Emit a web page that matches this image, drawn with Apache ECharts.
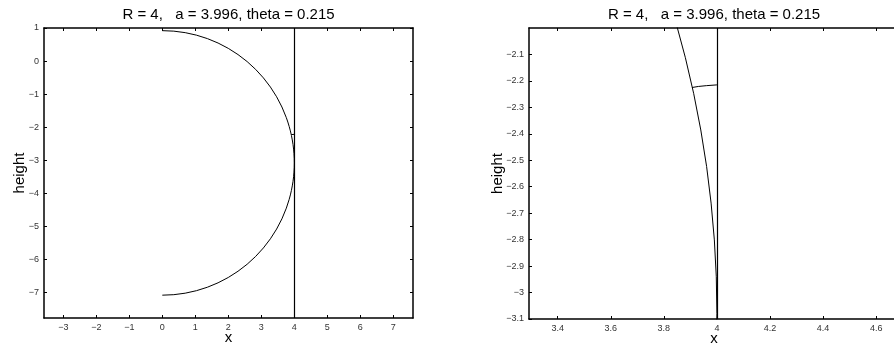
<!DOCTYPE html>
<html>
<head>
<meta charset="utf-8">
<script src="https://cdn.jsdelivr.net/npm/echarts@6/dist/echarts.min.js"></script>
<style>
  html, body { margin: 0; padding: 0; background: #fff; }
  #main { width: 894px; height: 348px; }
</style>
</head>
<body>
<div id="main"></div>
<script>
// title text of both panels
var titleText = 'R = 4,   a = 3.996, theta = 0.215';

// circle outline (x, height)
var circleX = [0, 0.3486, 0.6946, 1.0353, 1.3681, 1.6905, 2.0, 2.2943, 2.5712, 2.8284, 3.0642, 3.2766, 3.4641, 3.6252, 3.7588, 3.8042, 3.8450, 3.8812, 3.9126, 3.9392, 3.9611, 3.9781, 3.9903, 3.9976, 4.0,
               3.9976, 3.9903, 3.9781, 3.9611, 3.9392, 3.9126, 3.8812, 3.8450, 3.7588, 3.6252, 3.4641, 3.2766, 3.0642, 2.8284, 2.5712, 2.2943, 2.0, 1.6905, 1.3681, 1.0353, 0.6946, 0.3486, 0];
var circleY = [0.92, 0.9048, 0.8592, 0.7837, 0.6788, 0.5452, 0.3841, 0.1966, -0.0158, -0.2516, -0.5088, -0.7857, -1.08, -1.3895, -1.7119, -1.8439, -1.9774, -2.1123, -2.2484, -2.3854, -2.5233, -2.6619, -2.8010, -2.9404, -3.08,
               -3.2196, -3.359, -3.4981, -3.6367, -3.7746, -3.9116, -4.0477, -4.1826, -4.4481, -4.7705, -5.08, -5.3743, -5.6512, -5.9084, -6.1442, -6.3566, -6.5441, -6.7052, -6.8388, -6.9437, -7.0192, -7.0648, -7.08];

// small arc between circle and wall
var markX = [3.906, 3.93, 3.96, 4.0];
var markY = [-2.225, -2.221, -2.218, -2.215];

// wall position
var wallX = 4;

// tick labels
var xTicksLeft = [-3, -2, -1, 0, 1, 2, 3, 4, 5, 6, 7];
var yTicksLeft = [-7, -6, -5, -4, -3, -2, -1, 0, 1];
var xTicksRight = [3.4, 3.6, 3.8, 4, 4.2, 4.4, 4.6];
var yTicksRight = [-3.1, -3, -2.9, -2.8, -2.7, -2.6, -2.5, -2.4, -2.3, -2.2, -2.1];

function zip(a, b) {
    var out = [];
    for (var i = 0; i < a.length; i++) out.push([a[i], b[i]]);
    return out;
}

var circle = zip(circleX, circleY);
var mark = zip(markX, markY);

var font = '"Liberation Sans", Arial, Helvetica, sans-serif';

function fmt(v) {
    var s = String(Math.round(v * 10) / 10);
    return s.replace('-', '\u2212');
}

// one axis of the box; labels only on bottom / left
function axis(gridIndex, position, min, max, ticks, withLabels, name, nameGap) {
    return {
        type: 'value',
        gridIndex: gridIndex,
        position: position,
        min: min,
        max: max,
        name: name || '',
        nameLocation: 'middle',
        nameGap: nameGap || 0,
        nameMoveOverlap: false,
        nameTextStyle: { color: '#000', fontSize: 15, fontFamily: font },
        splitLine: { show: false },
        axisLine: { show: true, onZero: false, lineStyle: { color: '#000', width: 1.5 } },
        axisTick: { show: true, inside: true, length: 3, customValues: ticks, lineStyle: { color: '#000', width: 1 } },
        axisLabel: {
            show: withLabels,
            customValues: ticks,
            formatter: fmt,
            margin: 5,
            color: '#333',
            fontSize: 9,
            fontFamily: font
        }
    };
}

var chart = echarts.init(document.getElementById('main'), null, { renderer: 'canvas' });

chart.setOption({
    animation: false,
    backgroundColor: '#fff',
    grid: [
        { left: 44, top: 28, width: 369, height: 290, containLabel: false, outerBoundsMode: 'none' },
        { left: 529, top: 28, width: 370, height: 291, containLabel: false, outerBoundsMode: 'none' }
    ],
    xAxis: [
        axis(0, 'bottom', -3.585, 7.597, xTicksLeft, true, 'x', 12),
        axis(0, 'top', -3.585, 7.597, xTicksLeft, false, titleText, 6),
        axis(1, 'bottom', 3.292, 4.686, xTicksRight, true, 'x', 12),
        axis(1, 'top', 3.292, 4.686, xTicksRight, false, titleText, 6)
    ],
    yAxis: [
        axis(0, 'left', -7.77, 1, yTicksLeft, true, 'height', 17),
        axis(0, 'right', -7.77, 1, yTicksLeft, false),
        axis(1, 'left', -3.1, -2.0, yTicksRight, true, 'height', 24),
        axis(1, 'right', -3.1, -2.0, yTicksRight, false)
    ],
    series: [0, 1].map(function (g) {
        return [{
            type: 'line',
            xAxisIndex: g * 2,
            yAxisIndex: g * 2,
            data: circle,
            showSymbol: false,
            silent: true,
            lineStyle: { color: '#000', width: 1 },
            markLine: {
                silent: true,
                symbol: 'none',
                label: { show: false },
                lineStyle: { color: '#000', width: 1.2, type: 'solid' },
                data: [{ xAxis: wallX }]
            }
        }, {
            type: 'line',
            xAxisIndex: g * 2,
            yAxisIndex: g * 2,
            data: mark,
            showSymbol: false,
            silent: true,
            lineStyle: { color: '#000', width: 1 }
        }];
    }).reduce(function (a, b) { return a.concat(b); }, [])
});
</script>
</body>
</html>
